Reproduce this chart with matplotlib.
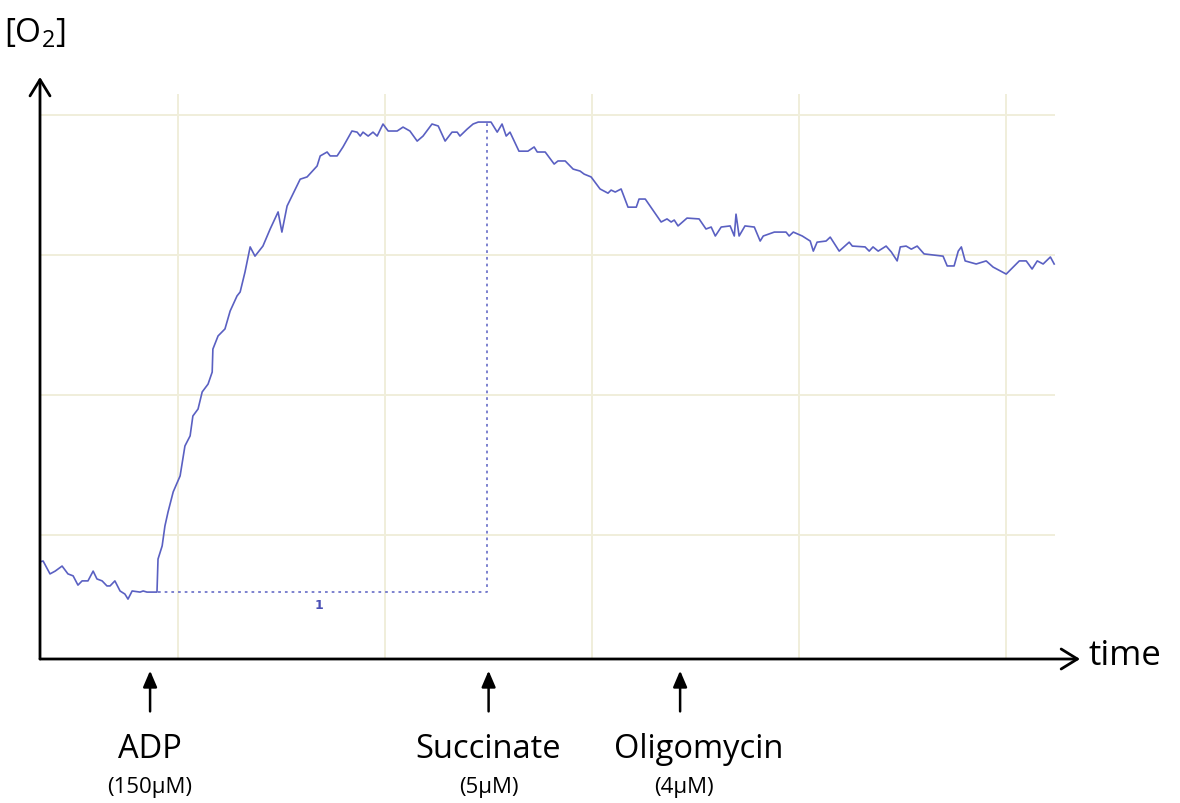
import matplotlib.pyplot as plt

plt.rcParams['font.family'] = ['Open Sans', 'DejaVu Sans']
plt.rcParams['mathtext.default'] = 'regular'

# oxygen trace, time in s from start of record, [O2] in arbitrary units
time_s = [0.0, 0.9, 2.9, 4.4, 6.4, 8.1, 9.6, 11.0, 12.2, 13.9, 15.4, 16.5, 18.0, 19.4,
          20.3, 21.7, 23.2, 24.6, 25.5, 26.7, 29.0, 29.9, 31.0, 33.3, 33.9,
          34.2, 35.4, 36.2, 37.1, 38.6, 40.6, 42.0, 43.5, 44.3, 45.8, 47.0, 48.7,
          49.9, 50.1, 51.6, 53.6, 55.1, 57.1, 58.0, 59.4, 60.9, 62.3, 64.6, 66.7,
          69.0, 70.1, 71.6, 75.4, 77.4, 80.3, 81.2, 83.2, 84.1, 86.1, 87.8, 90.4,
          91.9, 92.8, 93.6, 95.1, 96.5, 97.7, 99.4, 100.9, 103.5, 105.2, 107.2,
          109.3, 111.0, 113.6, 115.4, 117.4, 119.4, 120.9, 121.7, 123.8, 125.5,
          127.0, 130.7, 132.5, 133.9, 135.1, 136.2, 138.8, 141.4, 143.2, 144.1,
          146.4, 149.0, 150.1, 152.2, 154.5, 156.5, 157.7, 159.7, 162.3, 164.6,
          165.5, 166.7, 168.4, 170.4, 172.8, 173.6, 175.4, 176.8, 180.0, 181.7,
          182.9, 183.8, 184.9, 187.5, 191.0, 193.0, 194.5, 195.7, 197.4, 200.0,
          201.2, 201.7, 202.6, 204.3, 207.0, 208.7, 209.6, 212.8, 216.2, 217.1,
          218.3, 220.9, 223.2, 224.1, 225.2, 227.8, 229.0, 231.6, 234.5, 235.4,
          239.1, 240.3, 241.4, 242.9, 245.2, 246.7, 248.4, 249.3, 251.0, 252.5,
          254.2, 256.2, 261.7, 262.9, 264.9, 266.1, 267.0, 268.1, 271.3, 274.2,
          276.2, 280.0, 282.0, 283.8, 285.8, 287.5, 289.0, 290.7, 292.8, 293.9]
o2 = [90.4, 90.7, 86.1, 87.1, 88.9, 86.1, 85.4, 82.1, 83.6, 83.6, 87.1, 84.3, 83.6, 81.8,
      81.8, 83.6, 80.0, 78.9, 77.1, 80.0, 79.6, 80.0, 79.6, 79.6, 79.6,
      91.4, 96.1, 103.2, 108.2, 115.4, 121.1, 131.8, 135.4, 142.5, 145.0, 151.1, 153.9,
      158.2, 166.4, 171.1, 173.6, 180.0, 185.4, 186.8, 193.9, 202.9, 199.6, 203.2, 209.3,
      215.4, 208.2, 217.5, 227.1, 227.9, 231.8, 235.4, 236.8, 235.4, 235.4, 238.6, 244.3,
      243.9, 242.5, 243.9, 242.5, 243.9, 242.5, 246.8, 244.3, 244.3, 245.7, 244.3,
      240.7, 242.5, 246.8, 246.1, 240.7, 243.9, 243.9, 242.5, 245.0, 246.8,
      247.5, 247.5, 243.9, 246.8, 242.5, 243.9, 237.1, 237.1, 238.6, 236.8,
      236.8, 232.5, 233.6, 233.6, 230.7, 230.0, 228.9, 227.9, 223.6, 222.1,
      223.2, 222.5, 223.6, 217.1, 217.1, 220.0, 220.0, 217.5, 211.8, 212.9,
      211.8, 212.5, 210.4, 213.2, 212.9, 209.3, 210.0, 206.8, 210.0, 210.4,
      206.8, 214.6, 206.8, 210.4, 210.0, 205.0, 206.8, 208.2, 208.2, 206.8,
      208.2, 206.8, 205.0, 201.4, 204.6, 205.0, 206.4, 201.4, 204.6, 203.2,
      202.9, 201.4, 202.9, 201.4, 203.2, 201.1, 197.9, 202.9, 203.2, 202.1,
      203.2, 200.4, 199.6, 196.1, 196.1, 201.4, 202.9, 197.9, 196.8, 197.9,
      195.7, 193.2, 195.7, 197.9, 197.9, 195.0, 197.9, 196.8, 199.3, 196.8]

# marker "1": baseline before ADP to the succinate addition
marker_t = [34.2, 129.6]
marker_o2 = [79.6, 247.5]
marker_label = '1'

# additions
event_names = ['ADP', 'Succinate', 'Oligomycin']
event_doses = ['(150µM)', '(5µM)', '(4µM)']
event_t = [31.9, 130.0, 185.5]

grid_t = [40, 100, 160, 220, 280]
grid_o2 = [100, 150, 200, 250]

blue = '#5a60c2'
grid_col = '#f0eedb'

fig = plt.figure(figsize=(11.8, 8.04), dpi=100)
ax = fig.add_axes([0.0339, 0.1791, 0.8814, 0.7239])
ax.set_xlim(0, 301.4)
ax.set_ylim(55.7, 263.6)
for s in ax.spines.values():
    s.set_visible(False)
ax.set_xticks([])
ax.set_yticks([])

ax.vlines(grid_t, 55.7, 257.5, color=grid_col, lw=1.4, zorder=0)
ax.hlines(grid_o2, 0, 294.2, color=grid_col, lw=1.4, zorder=0)

ax.plot(time_s, o2, color=blue, lw=1.2, zorder=3)

# dotted marker lines
ax.plot([marker_t[0], marker_t[1], marker_t[1]],
        [marker_o2[0], marker_o2[0], marker_o2[1]],
        color=blue, lw=1.3, ls=(0, (1.5, 2.2)), alpha=0.85, zorder=2)
ax.text(sum(marker_t) / 2 - 1, marker_o2[0] - 2, marker_label, color='#4a50b5',
        fontsize=9, fontweight='bold', ha='center', va='top', family='DejaVu Sans')

# axes arrows
arr = dict(arrowstyle='->,head_length=0.65,head_width=0.4', lw=2.0, color='black',
           mutation_scale=18, shrinkA=0, shrinkB=0)
ax.annotate('', xy=(1, 0), xytext=(0, 0), xycoords='axes fraction', arrowprops=arr,
            annotation_clip=False)
ax.annotate('', xy=(0, 1), xytext=(0, 0), xycoords='axes fraction', arrowprops=arr,
            annotation_clip=False)
ax.text(1.0085, 0.007, 'time', transform=ax.transAxes, fontsize=25, ha='left', va='center')
ax.text(-0.035, 1.075, '[O$_2$]', transform=ax.transAxes, fontsize=24, ha='left', va='center')

# addition arrows and labels
trans = ax.get_xaxis_transform()
name_dx = [0, 0, 5.5]
dose_dx = [0, 0, 1.0]
for name, dose, t, ndx, ddx in zip(event_names, event_doses, event_t, name_dx, dose_dx):
    ax.annotate('', xy=(t, -0.02), xytext=(t, -0.09), xycoords=trans,
                arrowprops=dict(arrowstyle='-|>,head_length=0.7,head_width=0.3', lw=1.8,
                                color='black', mutation_scale=14, shrinkA=0, shrinkB=0),
                annotation_clip=False)
    ax.text(t + ndx, -0.153, name, transform=trans, fontsize=23.5, ha='center', va='center')
    ax.text(t + ddx, -0.219, dose, transform=trans, fontsize=16, ha='center', va='center')

fig.savefig('out.png', dpi=100)
